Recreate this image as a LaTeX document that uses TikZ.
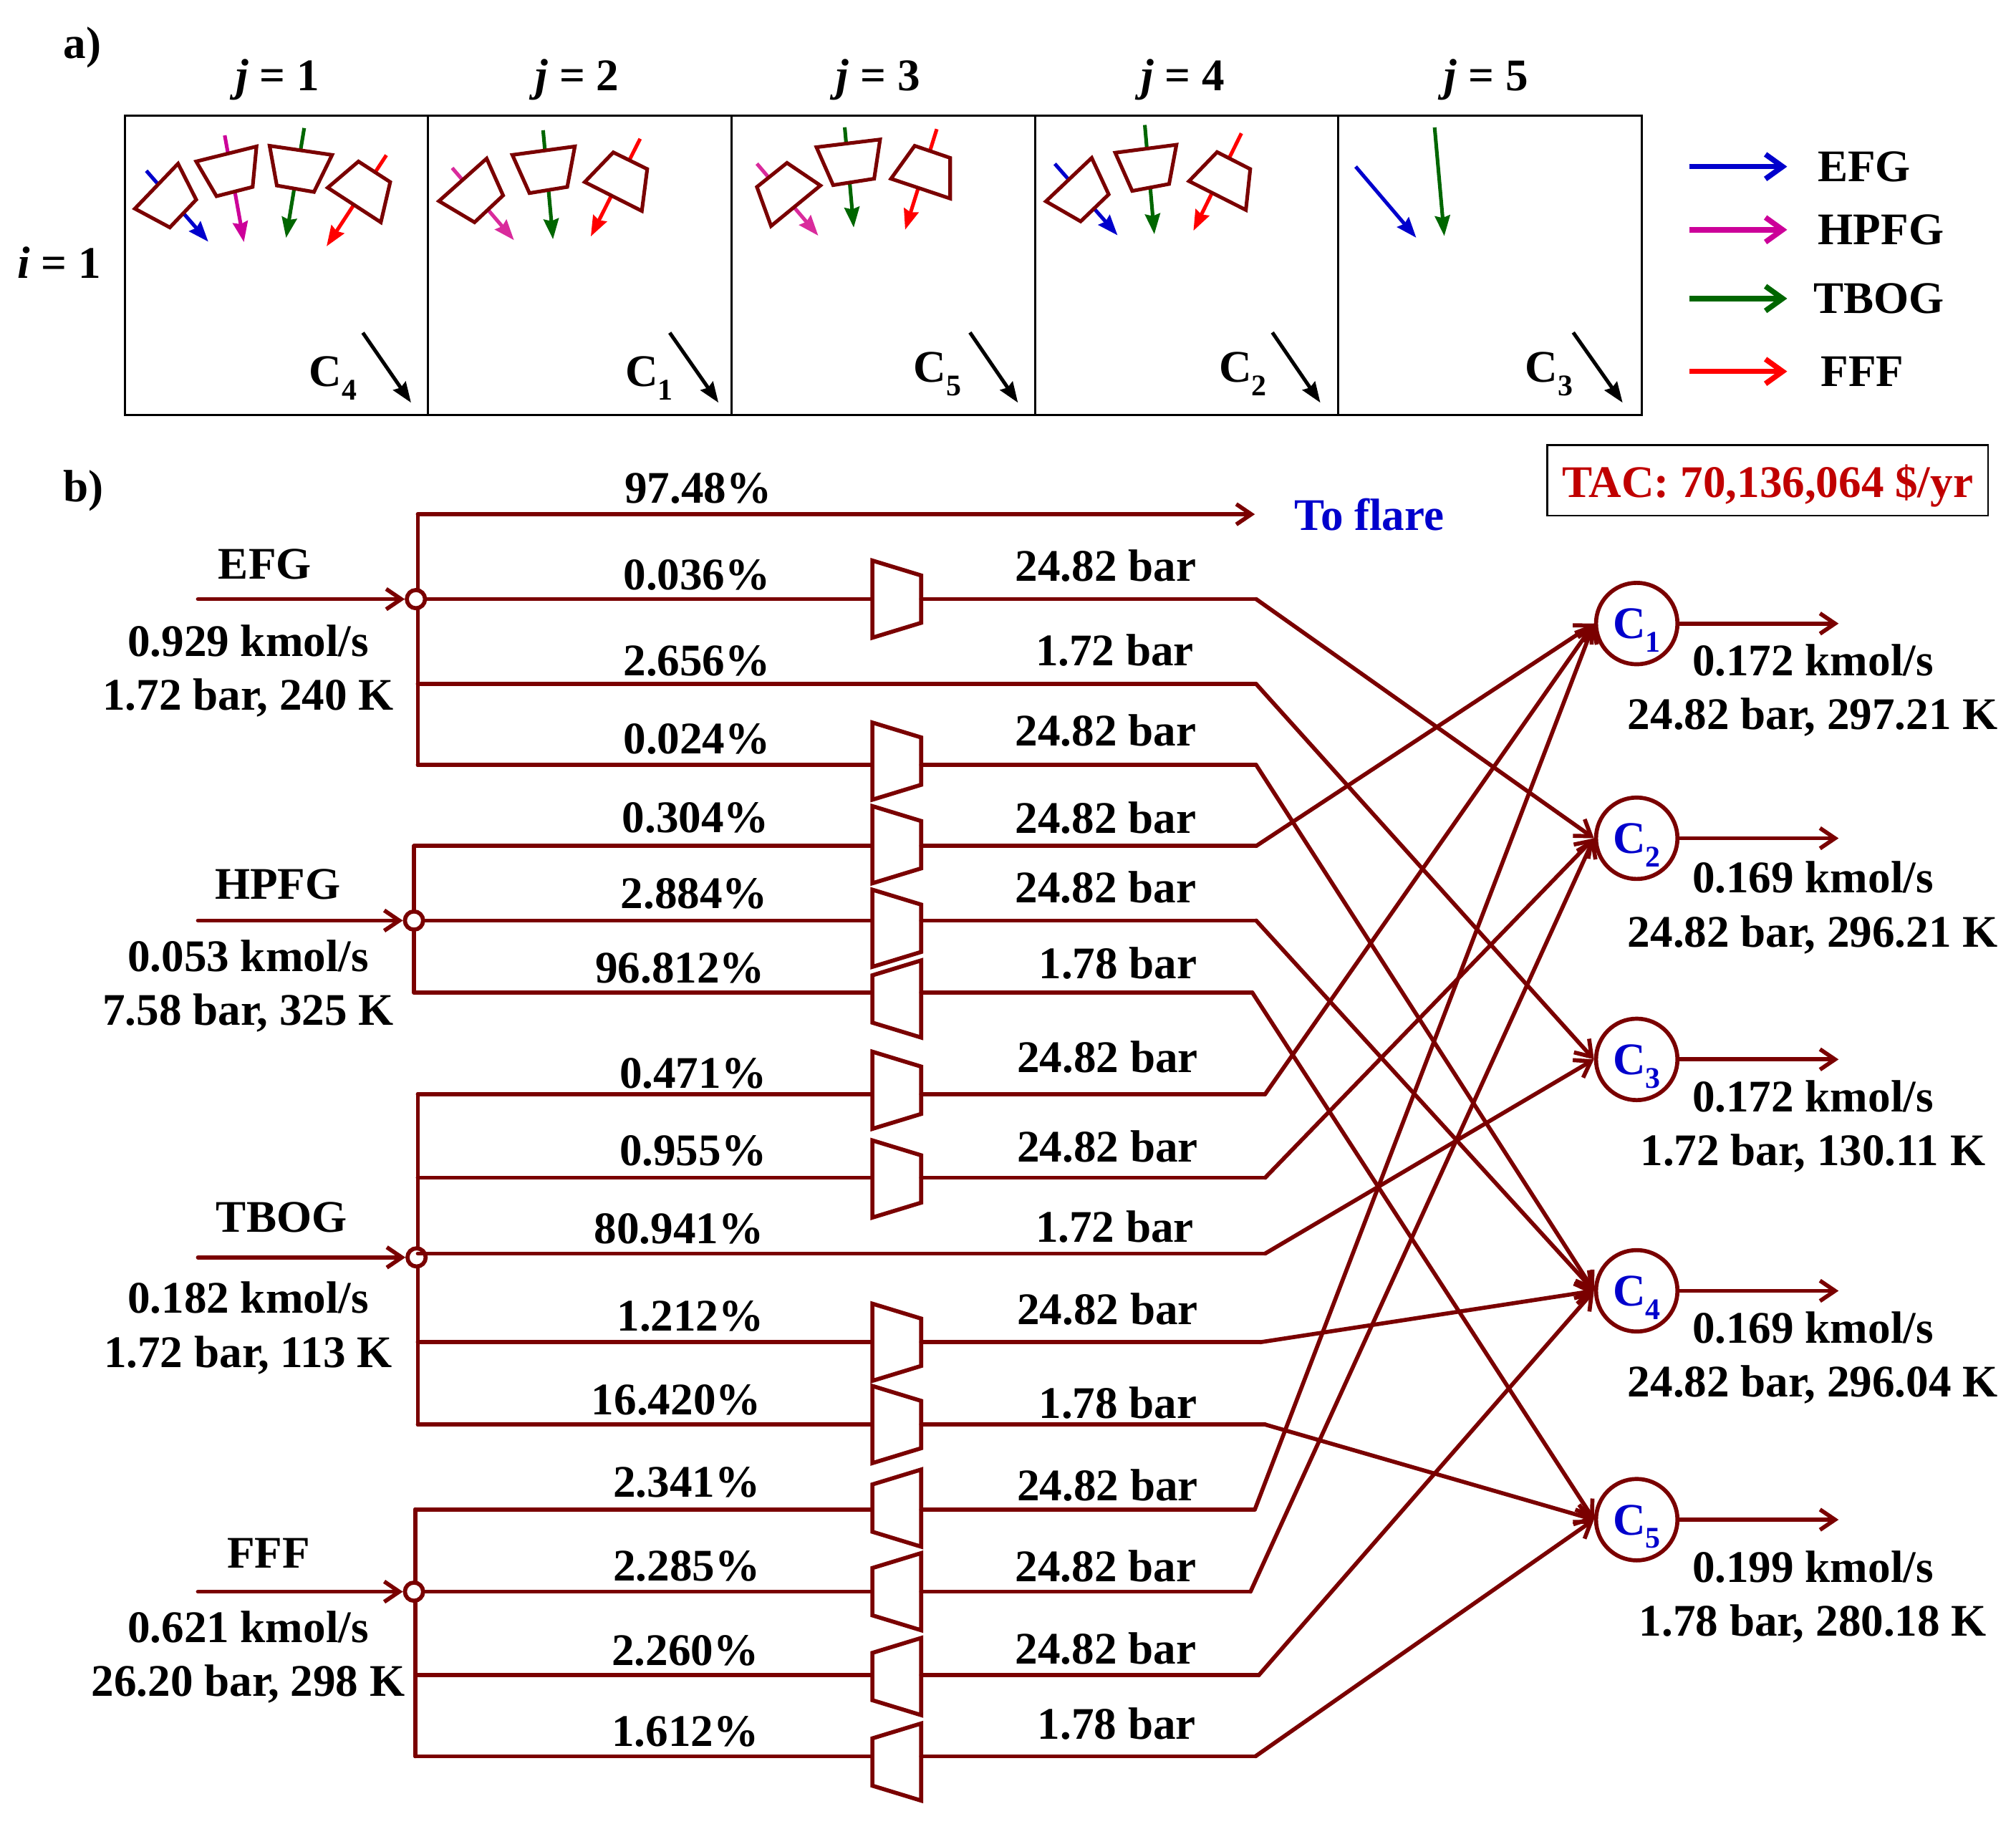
\documentclass[tikz,border=0pt]{standalone}
\usepackage{fontspec}
\setmainfont{Liberation Serif}
\usetikzlibrary{arrows.meta,shapes.geometric}
\definecolor{flowred}{HTML}{7A0000}
\definecolor{efgblue}{HTML}{0000CC}
\definecolor{hpfgpink}{HTML}{CC0099}
\definecolor{hpfgrose}{HTML}{D92B9C}
\definecolor{tbogreen}{HTML}{006600}
\definecolor{tacred}{HTML}{C00000}
\newcommand{\csub}[1]{C\raisebox{-.3em}{\fontsize{14pt}{14pt}\selectfont #1}}
\begin{document}
\begin{tikzpicture}[x=.6pt, y=-.6pt, node distance=141.6pt,
	label node/.style={font=\bfseries\fontsize{21.1pt}{25.2pt}\selectfont,inner sep=0pt,align=center},
	cell node/.style={rectangle,draw,line width=1pt,minimum width=141.6pt,minimum height=139.8pt,inner sep=0pt},
	comp node/.style={trapezium,trapezium stretches=true,draw=flowred,fill=white,line width=1.9pt,minimum width=36pt,minimum height=22.8pt,trapezium left angle=72.5,trapezium right angle=72.5,inner sep=0pt,outer sep=0pt,rotate=-90,execute at begin node={\phantom{\rule{1pt}{1pt}}}},
	flip node/.style={comp node,rotate=180},
	main node/.style={circle,draw=flowred,fill=white,line width=1.9pt,minimum size=38pt,inner sep=0pt,text=efgblue,text height=14pt,text depth=0pt,font=\bfseries\fontsize{21.1pt}{25.2pt}\selectfont},
	mix node/.style={circle,draw=flowred,fill=white,line width=1.9pt,minimum size=8.5pt,inner sep=0pt},
	flow/.style={draw=flowred,line width=1.9pt,line cap=round},
	feed/.style={flow,-{Straight Barb[length=7pt,width=9.5pt,line width=1.9pt]}},
	unit/.style={draw=flowred,fill=white,line width=1.7pt},
	small tip/.style={-{Stealth[length=9.5pt,width=7pt,inset=1pt]},line width=1.7pt},
	key tip/.style={-{Straight Barb[length=8pt,width=11.5pt,line width=2.5pt]},line width=2.5pt}]

	\useasboundingbox (0,0) rectangle (1568,1418.2);

	\node[label node] (la) at (64,37) {a)};
	\node[label node] (lb) at (65,382) {b)};
	\node[label node] (i1) at (46,204) {\textit{i} = 1};
	\node[label node] (j1) at (216,62) {\textit{j} = 1};
	\node[label node] (j2) at (449,62) {\textit{j} = 2};
	\node[label node] (j3) at (683,62) {\textit{j} = 3};
	\node[label node] (j4) at (920,62) {\textit{j} = 4};
	\node[label node] (j5) at (1156,62) {\textit{j} = 5};

	\node[cell node] (s1) at (215,206.5) {};
	\node[cell node] (s2) [right of=s1] {};
	\node[cell node] (s3) [right of=s2] {};
	\node[cell node] (s4) [right of=s3] {};
	\node[cell node] (s5) [right of=s4] {};

	\coordinate (u1) at (113.8,132.8); \coordinate (v1) at (162,188); \draw[small tip,efgblue] (u1) -- (v1);
	\coordinate (u2) at (174.8,105.3); \coordinate (v2) at (189.7,188.3); \draw[small tip,hpfgpink] (u2) -- (v2);
	\coordinate (u3) at (236.6,99.6); \coordinate (v3) at (222.5,185); \draw[small tip,tbogreen] (u3) -- (v3);
	\coordinate (u4) at (300.5,120.7); \coordinate (v4) at (254,191.6); \draw[small tip,red] (u4) -- (v4);
	\coordinate (u5) at (351.7,130.6); \coordinate (v5) at (399.8,186.8); \draw[small tip,hpfgrose] (u5) -- (v5);
	\coordinate (u6) at (422.4,101.3); \coordinate (v6) at (430.1,186.1); \draw[small tip,tbogreen] (u6) -- (v6);
	\coordinate (u7) at (497.9,107.9); \coordinate (v7) at (459.5,183.9); \draw[small tip,red] (u7) -- (v7);
	\coordinate (u8) at (588.7,127.3); \coordinate (v8) at (636.4,183.3); \draw[small tip,hpfgrose] (u8) -- (v8);
	\coordinate (u9) at (657,99); \coordinate (v9) at (664,177); \draw[small tip,tbogreen] (u9) -- (v9);
	\coordinate (u10) at (728.6,100.4); \coordinate (v10) at (704,178.7); \draw[small tip,red] (u10) -- (v10);
	\coordinate (u11) at (820.4,127.4); \coordinate (v11) at (869.2,183); \draw[small tip,efgblue] (u11) -- (v11);
	\coordinate (u12) at (890.4,97.2); \coordinate (v12) at (897.8,182.2); \draw[small tip,tbogreen] (u12) -- (v12);
	\coordinate (u13) at (965.5,103.7); \coordinate (v13) at (928.2,179.5); \draw[small tip,red] (u13) -- (v13);
	\coordinate (u14) at (1054.4,129.6); \coordinate (v14) at (1101.5,184.9); \draw[small tip,efgblue] (u14) -- (v14);
	\coordinate (u15) at (1115.8,99.1); \coordinate (v15) at (1123.3,183.6); \draw[small tip,tbogreen] (u15) -- (v15);

	\draw[unit] (138.5,127.3) -- (152.6,155.3) -- (132.1,176.9) -- (104.9,162.3) -- cycle;
	\draw[unit] (199.5,113.9) -- (196.5,145.4) -- (168.4,152.6) -- (152.6,125.6) -- cycle;
	\draw[unit] (209.7,113.4) -- (258.3,120.5) -- (244.2,149.3) -- (215.3,144.3) -- cycle;
	\draw[unit] (278.8,125.6) -- (303.5,141.6) -- (296.2,172.9) -- (254.9,146) -- cycle;
	\draw[unit] (378.5,123.3) -- (391.3,152) -- (369.1,172.9) -- (341.4,156.4) -- cycle;
	\draw[unit] (447.1,113.9) -- (441.2,145.4) -- (411.8,150.2) -- (398.5,120.5) -- cycle;
	\draw[unit] (477,118.5) -- (503.4,131.5) -- (499.2,164.1) -- (454.8,141.6) -- cycle;
	\draw[unit] (612.1,126.7) -- (638.1,144.3) -- (599.7,175.8) -- (588.7,145.4) -- cycle;
	\draw[unit] (684.5,108.5) -- (679.9,139) -- (648,144) -- (635,114.5) -- cycle;
	\draw[unit] (711.4,113.4) -- (739,122.8) -- (739,154.4) -- (693,139) -- cycle;
	\draw[unit] (849.1,122.8) -- (862.3,151.2) -- (840.5,172.2) -- (813.5,156.6) -- cycle;
	\draw[unit] (915,112.6) -- (909.3,143.1) -- (880.6,148.5) -- (867.4,118.8) -- cycle;
	\draw[unit] (946.6,118.3) -- (972.4,131.5) -- (969,163.3) -- (924.8,140.9) -- cycle;

	\node[label node] (k1) at (259,294) {\csub{4}};
	\node[label node] (k2) at (505,294) {\csub{1}};
	\node[label node] (k3) at (729,291) {\csub{5}};
	\node[label node] (k4) at (966.7,291) {\csub{2}};
	\node[label node] (k5) at (1204.7,291) {\csub{3}};
	\coordinate (w1) at (282.2,258.8); \coordinate (z1) at (319.7,313.2); \draw[small tip,black] (w1) -- (z1);
	\coordinate (w2) at (520.9,258.8); \coordinate (z2) at (558.8,313.2); \draw[small tip,black] (w2) -- (z2);
	\coordinate (w3) at (754.4,258.6); \coordinate (z3) at (791.7,313.2); \draw[small tip,black] (w3) -- (z3);
	\coordinate (w4) at (989.6,258.6); \coordinate (z4) at (1026.9,313.2); \draw[small tip,black] (w4) -- (z4);
	\coordinate (w5) at (1223.6,258.6); \coordinate (z5) at (1262,313.2); \draw[small tip,black] (w5) -- (z5);

	\coordinate (g1) at (1313.7,129.6); \coordinate (h1) at (1390,129.6); \draw[key tip,efgblue] (g1) -- (h1);
	\coordinate (g2) at (1313.7,178.7); \coordinate (h2) at (1390,178.7); \draw[key tip,hpfgpink] (g2) -- (h2);
	\coordinate (g3) at (1313.7,232.2); \coordinate (h3) at (1390,232.2); \draw[key tip,tbogreen] (g3) -- (h3);
	\coordinate (g4) at (1313.7,288.9); \coordinate (h4) at (1390,288.9); \draw[key tip,red] (g4) -- (h4);
	\node[label node] (n1) at (1450,130) {EFG};
	\node[label node] (n2) at (1463,179) {HPFG};
	\node[label node] (n3) at (1461.5,232) {TBOG};
	\node[label node] (n4) at (1448.5,289) {FFF};

	\node[label node,draw,line width=.9pt,minimum width=205.8pt,minimum height=33pt,text=tacred] (tac) at (1374.8,373.5) {\raisebox{-7.9pt}[0pt][0pt]{TAC: 70,136,064 \$/yr}};
	\node[label node,text=efgblue] (flare) at (1065,400) {To flare};

	\node[main node] (c1) at (1273,485) {\csub{1}};
	\node[main node] (c2) at (1273,652) {\csub{2}};
	\node[main node] (c3) at (1273,824) {\csub{3}};
	\node[main node] (c4) at (1273,1004) {\csub{4}};
	\node[main node] (c5) at (1273,1182) {\csub{5}};

	\coordinate (t1) at (325,400);
	\coordinate (t2) at (325,532);
	\coordinate (t3) at (325,595);
	\coordinate (t4) at (322,658);
	\coordinate (t5) at (322,772);
	\coordinate (t6) at (325,851);
	\coordinate (t7) at (325,916);
	\coordinate (t8) at (325,975);
	\coordinate (t9) at (325,1044);
	\coordinate (t10) at (325,1108);
	\coordinate (t11) at (323,1174);
	\coordinate (t12) at (323,1303);
	\coordinate (t13) at (323,1366);
	\coordinate (e0) at (976,400);
	\coordinate (e1) at (977,466);
	\coordinate (e2) at (977,532);
	\coordinate (e3) at (977,595);
	\coordinate (e4) at (977,658);
	\coordinate (e5) at (977,716);
	\coordinate (e6) at (974,772);
	\coordinate (e7) at (984,851);
	\coordinate (e8) at (984,916);
	\coordinate (e9) at (984,975);
	\coordinate (e10) at (980,1044);
	\coordinate (e11) at (984,1108);
	\coordinate (e12) at (976,1174);
	\coordinate (e13) at (972.6,1238);
	\coordinate (e14) at (979,1303);
	\coordinate (e15) at (976.5,1366);

	\path[flow] (t1) edge (t3) (t4) edge (t5) (t6) edge (t10) (t11) edge (t13);

	\node[mix node] (m1) at (323.5,466) {};
	\node[mix node] (m2) at (322,716) {};
	\node[mix node] (m3) at (324,978) {};
	\node[mix node] (m4) at (322,1238) {};

	\node[comp node] (b1) at (697.5,466) {};
	\node[comp node] (b3) at (697.5,592) {};
	\node[comp node] (b4) at (697.5,657) {};
	\node[comp node] (b5) at (697.5,722) {};
	\node[flip node] (b6) at (697.5,777) {};
	\node[comp node] (b7) at (697.5,848) {};
	\node[comp node] (b8) at (697.5,917) {};
	\node[comp node] (b10) at (697.5,1044) {};
	\node[comp node] (b11) at (697.5,1108) {};
	\node[flip node] (b12) at (697.5,1173) {};
	\node[flip node] (b13) at (697.5,1238) {};
	\node[flip node] (b14) at (697.5,1304) {};
	\node[flip node] (b15) at (697.5,1370.5) {};

	\path[flow]
	(t1) edge[feed] (e0)
	(m1) edge (m1 -| b1.south)
	(b1.north |- e1) edge (e1)
	(e1) edge[feed] (c2.west)
	(t2) edge (e2)
	(e2) edge[feed] (c3.west)
	(t3) edge (t3 -| b3.south)
	(b3.north |- e3) edge (e3)
	(e3) edge[feed] (c4.west)
	(t4) edge (t4 -| b4.south)
	(b4.north |- e4) edge (e4)
	(e4) edge[feed] (c1.west)
	(m2) edge (m2 -| b5.south)
	(b5.north |- e5) edge (e5)
	(e5) edge[feed] (c4.west)
	(t5) edge (t5 -| b6.north)
	(b6.south |- e6) edge (e6)
	(e6) edge[feed] (c5.west)
	(t6) edge (t6 -| b7.south)
	(b7.north |- e7) edge (e7)
	(e7) edge[feed] (c1.west)
	(t7) edge (t7 -| b8.south)
	(b8.north |- e8) edge (e8)
	(e8) edge[feed] (c2.west)
	(t8) edge (e9)
	(e9) edge[feed] (c3.west)
	(t9) edge (t9 -| b10.south)
	(b10.north |- e10) edge (e10)
	(e10) edge[feed] (c4.west)
	(t10) edge (t10 -| b11.south)
	(b11.north |- e11) edge (e11)
	(e11) edge[feed] (c5.west)
	(t11) edge (t11 -| b12.north)
	(b12.south |- e12) edge (e12)
	(e12) edge[feed] (c1.west)
	(m4) edge (m4 -| b13.north)
	(b13.south |- e13) edge (e13)
	(e13) edge[feed] (c2.west)
	(t12) edge (t12 -| b14.north)
	(b14.south |- e14) edge (e14)
	(e14) edge[feed] (c4.west)
	(t13) edge (t13 -| b15.north)
	(b15.south |- e15) edge (e15)
	(e15) edge[feed] (c5.west);

	\coordinate (f1) at (154,466);
	\coordinate (f2) at (154,716);
	\coordinate (f3) at (154,978);
	\coordinate (f4) at (154,1238);
	\coordinate (o1) at (1430,485);
	\coordinate (o2) at (1430,652);
	\coordinate (o3) at (1430,824);
	\coordinate (o4) at (1430,1004);
	\coordinate (o5) at (1430,1182);
	\path[flow]
	(f1) edge[feed] (m1)
	(f2) edge[feed] (m2)
	(f3) edge[feed] (m3)
	(f4) edge[feed] (m4)
	(c1) edge[feed] (o1)
	(c2) edge[feed] (o2)
	(c3) edge[feed] (o3)
	(c4) edge[feed] (o4)
	(c5) edge[feed] (o5);

	\node[label node] (a1) at (206,439) {EFG};
	\node[label node] (a2) at (193,522) {0.929 kmol/s\\1.72 bar, 240 K};
	\node[label node] (a3) at (216,688) {HPFG};
	\node[label node] (a4) at (193,767) {0.053 kmol/s\\7.58 bar, 325 K};
	\node[label node] (a5) at (219,947) {TBOG};
	\node[label node] (a6) at (193,1033) {0.182 kmol/s\\1.72 bar, 113 K};
	\node[label node] (a7) at (209,1208) {FFF};
	\node[label node] (a8) at (193,1289) {0.621 kmol/s\\26.20 bar, 298 K};

	\node[label node] (d1) at (1410,537) {0.172 kmol/s\\24.82 bar, 297.21 K};
	\node[label node] (d2) at (1410,706) {0.169 kmol/s\\24.82 bar, 296.21 K};
	\node[label node] (d3) at (1410,876) {0.172 kmol/s\\1.72 bar, 130.11 K};
	\node[label node] (d4) at (1410,1056) {0.169 kmol/s\\24.82 bar, 296.04 K};
	\node[label node] (d5) at (1410,1242) {0.199 kmol/s\\1.78 bar, 280.18 K};

	\node[label node] (p0) at (543,380) {97.48\%};
	\node[label node] (p1) at (542,447) {0.036\%};
	\node[label node] (p2) at (542,514) {2.656\%};
	\node[label node] (p3) at (542,575) {0.024\%};
	\node[label node] (p4) at (541,636) {0.304\%};
	\node[label node] (p5) at (540,695) {2.884\%};
	\node[label node] (p6) at (529,753) {96.812\%};
	\node[label node] (p7) at (539,835) {0.471\%};
	\node[label node] (p8) at (539,895) {0.955\%};
	\node[label node] (p9) at (528,956) {80.941\%};
	\node[label node] (p10) at (537,1024) {1.212\%};
	\node[label node] (p11) at (526,1089) {16.420\%};
	\node[label node] (p12) at (534,1153) {2.341\%};
	\node[label node] (p13) at (534,1218) {2.285\%};
	\node[label node] (p14) at (533,1284) {2.260\%};
	\node[label node] (p15) at (533,1347) {1.612\%};

	\node[label node] (q1) at (860,440) {24.82 bar};
	\node[label node] (q2) at (867,506) {1.72 bar};
	\node[label node] (q3) at (860,568) {24.82 bar};
	\node[label node] (q4) at (860,636) {24.82 bar};
	\node[label node] (q5) at (860,690) {24.82 bar};
	\node[label node] (q6) at (869.5,749) {1.78 bar};
	\node[label node] (q7) at (861.5,822) {24.82 bar};
	\node[label node] (q8) at (861.5,892) {24.82 bar};
	\node[label node] (q9) at (867,954) {1.72 bar};
	\node[label node] (q10) at (861.5,1018) {24.82 bar};
	\node[label node] (q11) at (869.5,1091) {1.78 bar};
	\node[label node] (q12) at (861.5,1155) {24.82 bar};
	\node[label node] (q13) at (860,1218) {24.82 bar};
	\node[label node] (q14) at (860,1282) {24.82 bar};
	\node[label node] (q15) at (868.5,1341) {1.78 bar};
\end{tikzpicture}
\end{document}
